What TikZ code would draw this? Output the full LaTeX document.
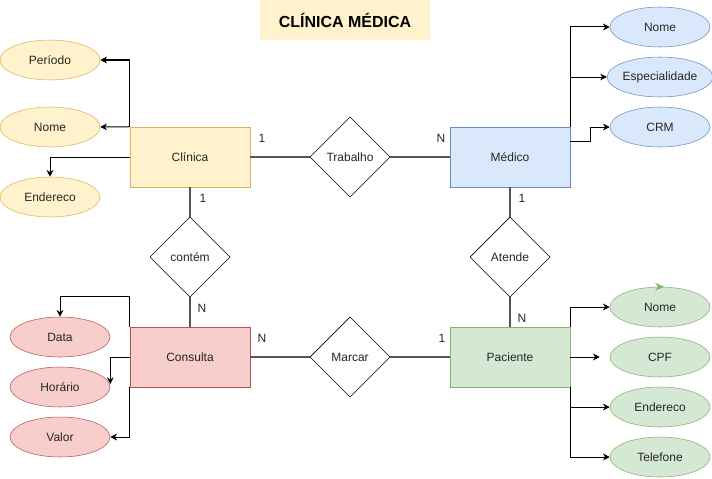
\documentclass[tikz,border=0pt]{standalone}
\usepackage{fontspec}
\setmainfont{Liberation Sans}
\usetikzlibrary{shapes.geometric,arrows.meta,calc}
\definecolor{yfill}{HTML}{FFF2CC}\definecolor{ydraw}{HTML}{D6B656}
\definecolor{bfill}{HTML}{DAE8FC}\definecolor{bdraw}{HTML}{6C8EBF}
\definecolor{rfill}{HTML}{F8CECC}\definecolor{rdraw}{HTML}{B85450}
\definecolor{gfill}{HTML}{D5E8D4}\definecolor{gdraw}{HTML}{82B366}
\definecolor{relgray}{HTML}{555555}
\begin{document}
\begin{tikzpicture}[x=0.75pt,y=-0.75pt,
  every node/.style={font=\fontsize{9}{11}\selectfont, text=black!85},
  entity/.style={rectangle, draw, minimum width=90pt, minimum height=45pt, inner sep=0pt},
  attrib/.style={ellipse, draw, minimum width=75pt, minimum height=30pt, inner sep=0pt},
  relation/.style={diamond, draw=black, fill=white, minimum width=60pt, minimum height=60pt, inner sep=0pt},
  card/.style={inner sep=0pt},
  rel/.style={draw=relgray, line width=0.8pt},
  attr/.style={draw=black, line width=0.75pt, -{Stealth[length=5pt,width=5pt,inset=1.5pt]}}
]
\useasboundingbox (0,0) rectangle (712,478);

% title
\node[fill=yfill, minimum width=127.5pt, minimum height=30pt, inner sep=0pt,
      font=\fontsize{12}{14}\selectfont\bfseries, text=black] (title) at (345,20) {CLÍNICA MÉDICA};

% entities
\node[entity, fill=yfill, draw=ydraw] (clin) at (190,157) {Clínica};
\node[entity, fill=bfill, draw=bdraw] (med) at (510,157) {Médico};
\node[entity, fill=rfill, draw=rdraw] (cons) at (190,357) {Consulta};
\node[entity, fill=gfill, draw=gdraw] (pac) at (510,357) {Paciente};

% relations
\node[relation] (trab) at (350,157) {Trabalho};
\node[relation] (cont) at (190,257) {contém};
\node[relation] (aten) at (510,257) {Atende};
\node[relation] (marc) at (350,357) {Marcar};

\draw[rel] (clin) -- (trab);
\draw[rel] (trab) -- (med);
\draw[rel] (clin.south) -- (cont.north);
\draw[rel] (cont.south) -- (cons.north);
\draw[rel] (med.south) -- (aten.north);
\draw[rel] (aten.south) -- (pac.north);
\draw[rel] (cons) -- (marc);
\draw[rel] (marc) -- (pac);

% cardinalities
\node[card] (c1) at (262,138) {1};
\node[card] (c2) at (441,138) {N};
\node[card] (c3) at (203,198) {1};
\node[card] (c4) at (202,308) {N};
\node[card] (c5) at (522,198) {1};
\node[card] (c6) at (522,318) {N};
\node[card] (c7) at (262,338) {N};
\node[card] (c8) at (442,338) {1};

% Clinica attributes
\node[attrib, fill=yfill, draw=ydraw] (per) at (50,60) {Período};
\node[attrib, fill=yfill, draw=ydraw] (cnome) at (50,127) {Nome};
\node[attrib, fill=yfill, draw=ydraw] (cend) at (50,197) {Endereco};
\draw[attr] (clin.north west) |- (per.east);
\draw[attr] (clin.north west) -- (cnome.east);
\draw[attr] (clin.west) -| (cend.north);

% Consulta attributes
\node[attrib, fill=rfill, draw=rdraw] (data) at (60,337) {Data};
\node[attrib, fill=rfill, draw=rdraw] (hor) at (60,387) {Horário};
\node[attrib, fill=rfill, draw=rdraw] (val) at (60,437) {Valor};
\draw[attr] (cons.north west) |- ($(data.north)+(0,-20)$) -- (data.north);
\draw[attr] (cons.west) -| ($(hor.east)+(0,-3)$);
\draw[attr] (cons.south west) |- (val.east);

% Medico attributes
\node[attrib, fill=bfill, draw=bdraw] (mnome) at (660,27) {Nome};
\node[attrib, fill=bfill, draw=bdraw] (esp) at (660,77) {Especialidade};
\node[attrib, fill=bfill, draw=bdraw] (crm) at (660,127) {CRM};
\draw[attr] (med.north east) |- (mnome.west);
\draw[attr] (med.north east) |- (esp.west);
\coordinate (crmstart) at ($(med.north east)+(0,15)$);
\draw[attr] (crmstart) -- ++(20,0) |- (crm.west);

% Paciente attributes
\node[attrib, fill=gfill, draw=gdraw] (pnome) at (660,307) {Nome};
\node[attrib, fill=gfill, draw=gdraw] (cpf) at (660,357) {CPF};
\node[attrib, fill=gfill, draw=gdraw] (pend) at (660,407) {Endereco};
\node[attrib, fill=gfill, draw=gdraw] (tel) at (660,457) {Telefone};
\draw[attr] (pac.north east) |- (pnome.west);
\draw[attr] (pac.east) -- ($(cpf.west)+(-10,0)$);
\draw[attr] (pac.south east) |- (pend.west);
\draw[attr] (pac.south east) |- (tel.west);

% small green arrowhead on top of Nome
\coordinate (gtip) at ($(pnome.north)+(4,0)$);
\fill[gdraw] ($(gtip)+(-9,-4)$) -- (gtip) -- ($(gtip)+(-9,4)$) -- ($(gtip)+(-6,0)$) -- cycle;
\end{tikzpicture}
\end{document}
